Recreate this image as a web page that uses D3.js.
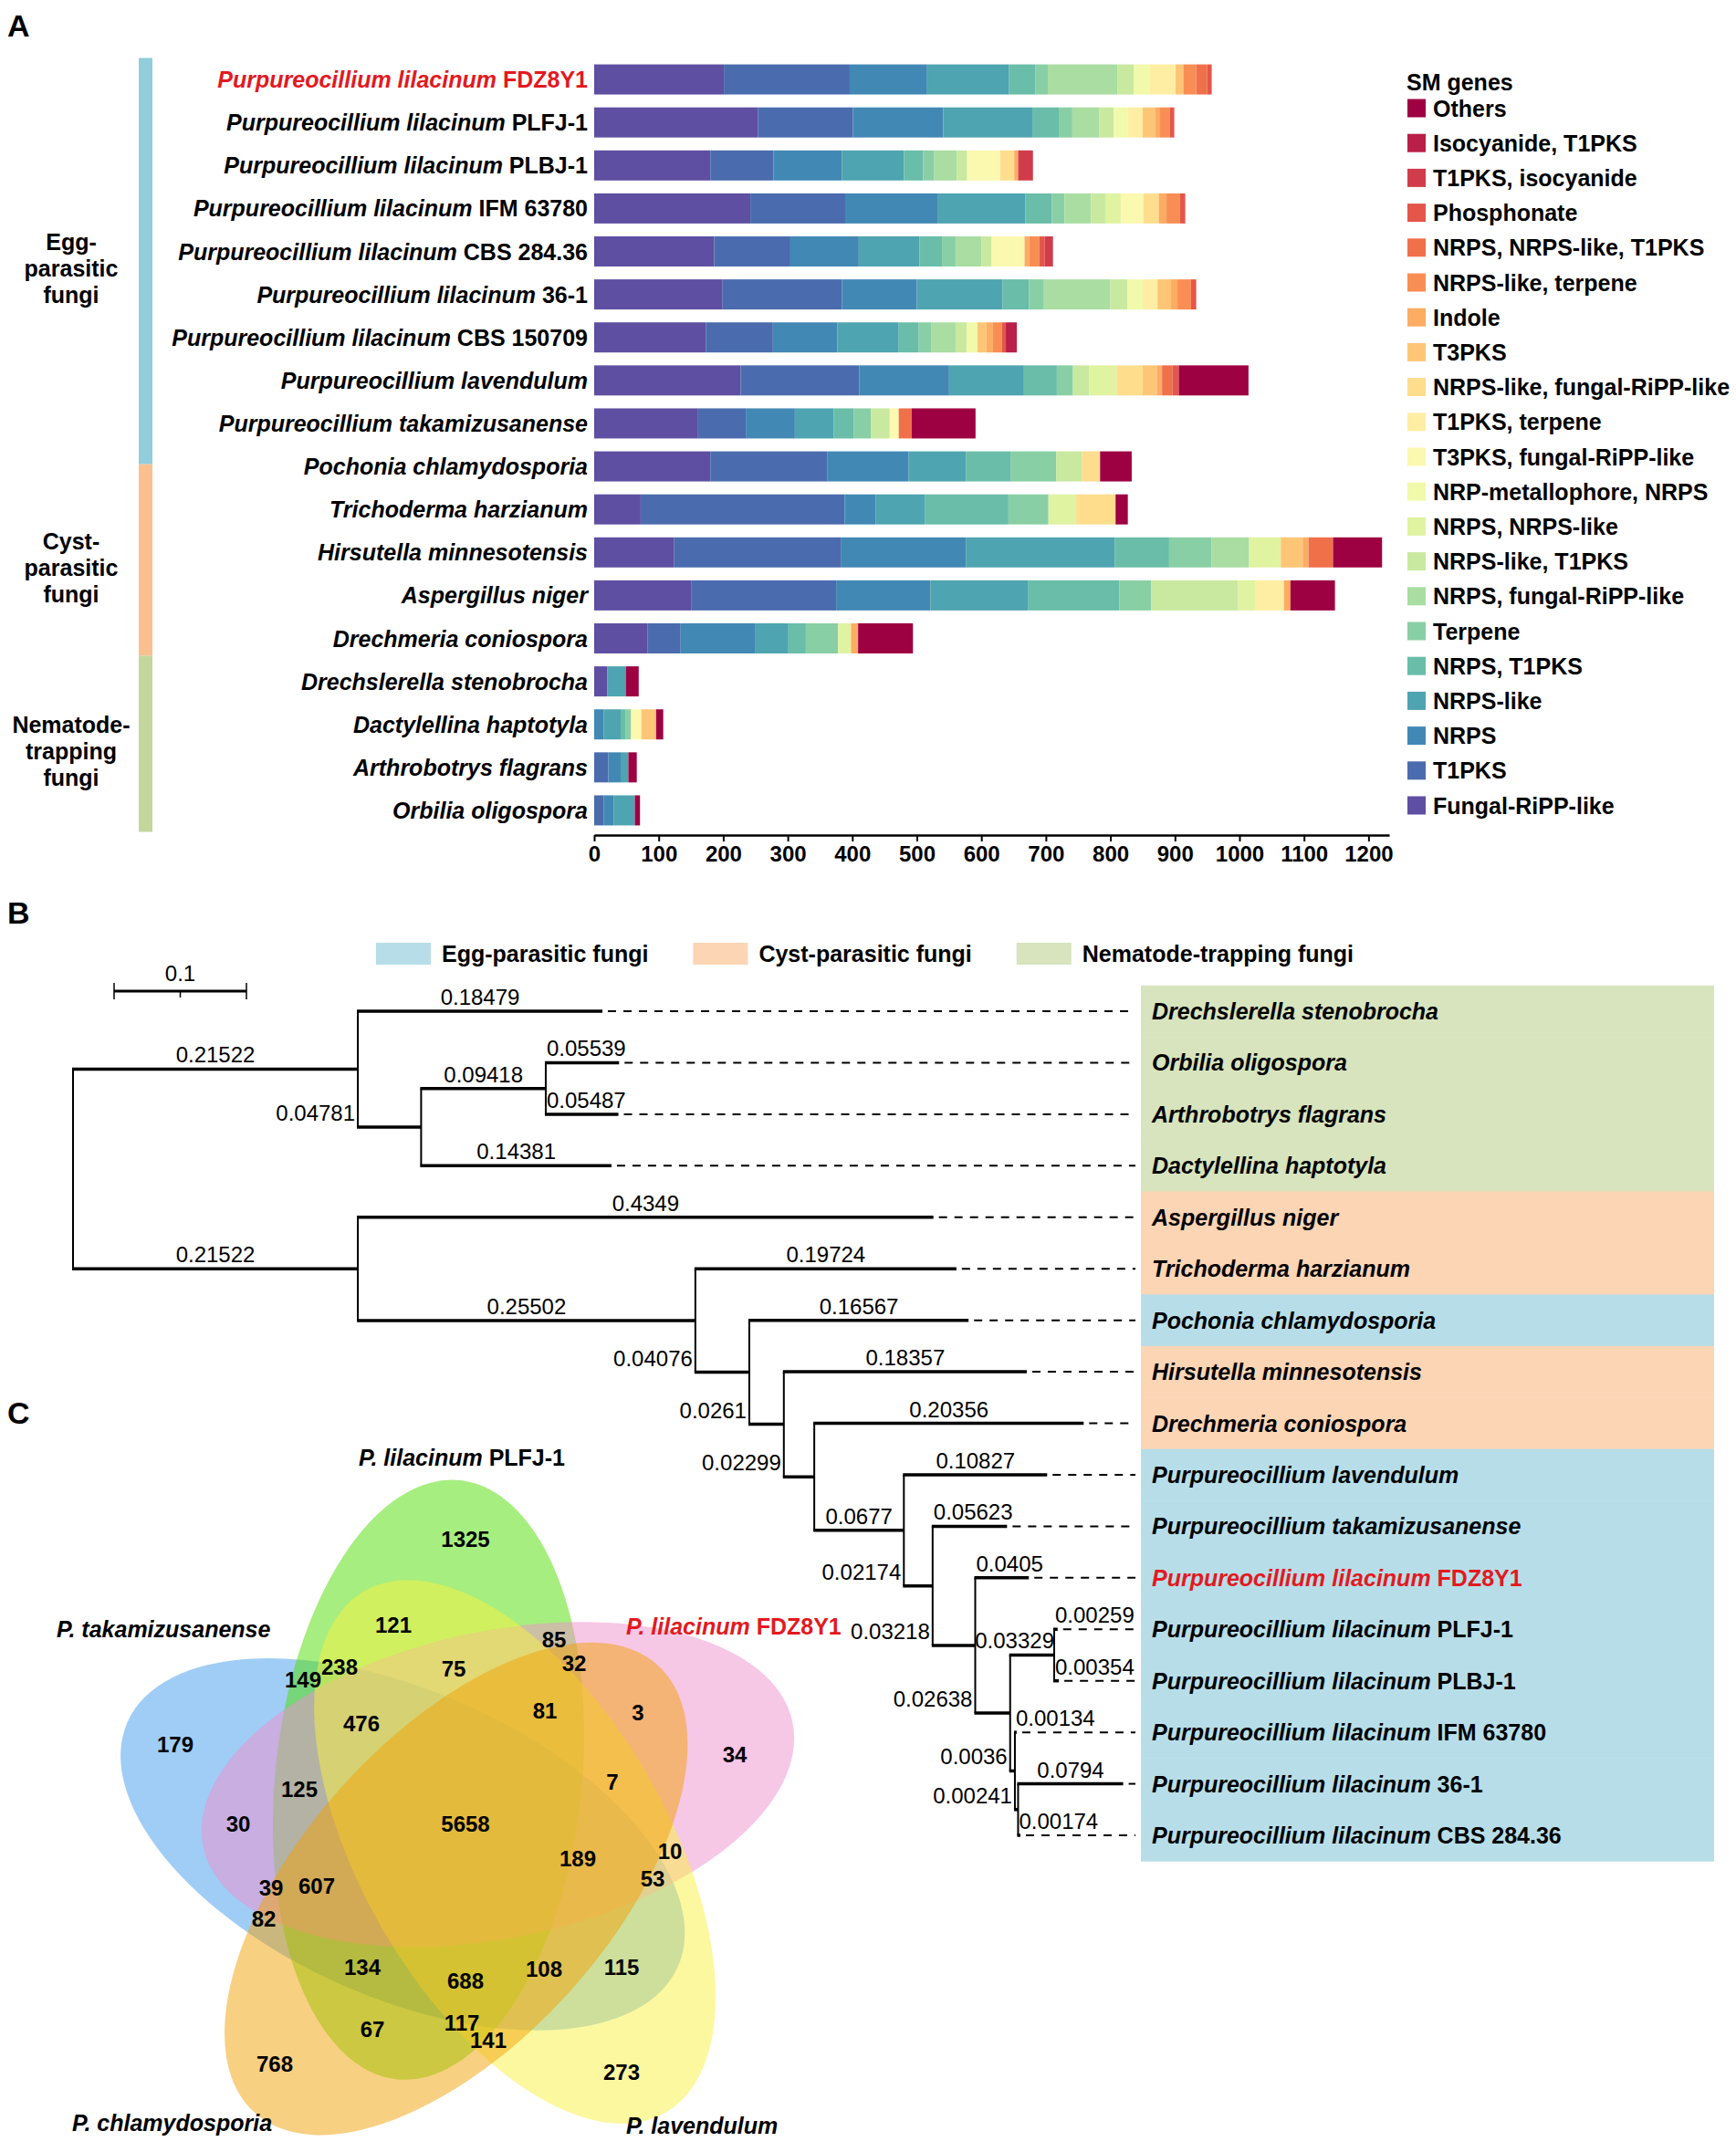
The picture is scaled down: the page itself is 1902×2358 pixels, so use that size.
<!DOCTYPE html>
<html>
<head>
<meta charset="utf-8">
<script src="https://cdn.jsdelivr.net/npm/d3@7"></script>
<style>
  body { margin: 0; background: #fff; }
  text { font-family: "Liberation Sans", Arial, Helvetica, sans-serif; }
</style>
</head>
<body>
<svg id="fig" width="1902" height="2358"></svg>
<script>
// ---------- data: panel A (SM gene clusters) ----------
var speciesA = [
  "Purpureocillium lilacinum|FDZ8Y1", "Purpureocillium lilacinum|PLFJ-1", "Purpureocillium lilacinum|PLBJ-1",
  "Purpureocillium lilacinum|IFM 63780", "Purpureocillium lilacinum|CBS 284.36", "Purpureocillium lilacinum|36-1",
  "Purpureocillium lilacinum|CBS 150709", "Purpureocillium lavendulum", "Purpureocillium takamizusanense",
  "Pochonia chlamydosporia", "Trichoderma harzianum", "Hirsutella minnesotensis", "Aspergillus niger",
  "Drechmeria coniospora", "Drechslerella stenobrocha", "Dactylellina haptotyla", "Arthrobotrys flagrans",
  "Orbilia oligospora"
];
// stacking order, left to right (legend shows it reversed)
var smTypes = [
  "Fungal-RiPP-like", "T1PKS", "NRPS", "NRPS-like", "NRPS, T1PKS", "Terpene", "NRPS, fungal-RiPP-like",
  "NRPS-like, T1PKS", "NRPS, NRPS-like", "NRP-metallophore, NRPS", "T3PKS, fungal-RiPP-like", "T1PKS, terpene",
  "NRPS-like, fungal-RiPP-like", "T3PKS", "Indole", "NRPS-like, terpene", "NRPS, NRPS-like, T1PKS",
  "Phosphonate", "T1PKS, isocyanide", "Isocyanide, T1PKS", "Others"
];
var smCounts = [
  [201,195,120,127,41,19,108,25,0,25,0,40,0,12,0,20,17,7,0,0,0],
  [254,147,140,138,41,21,42,22,0,22,0,23,0,19,8,15,0,7,0,0,0],
  [180,98,106,96,30,17,35,16,0,0,51,0,22,0,6,0,0,0,23,0,0],
  [242,147,144,135,41,20,41,22,24,0,35,0,24,0,12,21,0,8,0,0,0],
  [186,118,106,94,35,21,40,16,0,0,51,0,0,0,7,16,0,8,13,0,0],
  [199,185,116,133,41,23,103,26,0,24,0,23,0,21,10,21,0,8,0,0,0],
  [173,104,100,95,31,19,38,17,0,17,0,0,0,14,10,14,0,6,0,17,0],
  [227,184,139,116,51,25,0,25,43,0,0,0,40,22,8,0,16,10,0,0,108],
  [161,74,76,60,31,27,0,29,0,0,14,0,0,0,0,0,20,0,0,0,99],
  [180,181,126,89,70,70,0,40,0,0,0,0,28,0,0,0,0,0,0,0,49],
  [72,316,48,77,129,62,0,0,43,0,0,0,61,0,0,0,0,0,0,0,19],
  [124,259,193,231,84,66,58,0,49,0,0,0,0,34,9,0,38,0,0,0,76],
  [151,224,146,151,142,49,0,135,26,0,0,45,0,0,10,0,0,0,0,0,69],
  [83,51,115,52,27,50,0,0,20,0,0,0,0,0,11,0,0,0,0,0,85],
  [20,0,0,29,0,0,0,0,0,0,0,0,0,0,0,0,0,0,0,0,20],
  [0,0,15,26,8,8,0,0,0,0,16,0,0,23,0,0,0,0,0,0,11],
  [0,22,19,12,0,0,0,0,0,0,0,0,0,0,0,0,0,0,0,0,13],
  [0,15,15,33,0,0,0,0,0,0,0,0,0,0,0,0,0,0,0,0,8]
];
var xTicks = [0,100,200,300,400,500,600,700,800,900,1000,1100,1200];
var groupNames = [["Egg-","parasitic","fungi"], ["Cyst-","parasitic","fungi"], ["Nematode-","trapping","fungi"]];
var groupRows = [[-0.5, 8.95], [8.95, 13.4], [13.4, 17.5]];   // row spans of the side bar in panel A
var groupColors = ["#92cddc", "#fac090", "#c3d69b"];
var groupLight = ["#b7dee8", "#fcd5b5", "#d7e4bd"];
var groupLegend = ["Egg-parasitic fungi", "Cyst-parasitic fungi", "Nematode-trapping fungi"];

// ---------- data: panel B (tree) ----------
var treeTips = [
  "Drechslerella stenobrocha", "Orbilia oligospora", "Arthrobotrys flagrans", "Dactylellina haptotyla",
  "Aspergillus niger", "Trichoderma harzianum", "Pochonia chlamydosporia", "Hirsutella minnesotensis",
  "Drechmeria coniospora", "Purpureocillium lavendulum", "Purpureocillium takamizusanense",
  "Purpureocillium lilacinum|FDZ8Y1", "Purpureocillium lilacinum|PLFJ-1", "Purpureocillium lilacinum|PLBJ-1",
  "Purpureocillium lilacinum|IFM 63780", "Purpureocillium lilacinum|36-1", "Purpureocillium lilacinum|CBS 284.36"
];
var tipGroups = [2,2,2,2,1,1,0,1,1,0,0,0,0,0,0,0,0];
var treeNewick = "((0:0.18479,((1:0.05539,2:0.05487):0.09418,3:0.14381):0.04781):0.21522," +
  "(4:0.4349,(5:0.19724,(6:0.16567,(7:0.18357,(8:0.20356,(9:0.10827,(10:0.05623,(11:0.0405," +
  "((12:0.00259,13:0.00354):0.03329,(14:0.00134,(15:0.0794,16:0.00174):0.00241):0.0036):0.02638)" +
  ":0.03218):0.02174):0.0677):0.02299):0.0261):0.04076):0.25502):0.21522)";

// ---------- data: panel C (Venn) ----------
var vennSets = ["P. lilacinum|PLFJ-1", "P. lilacinum|FDZ8Y1", "P. lavendulum", "P. chlamydosporia", "P. takamizusanense"];
var vennColors = ["#4ddd00", "#ef8fcd", "#f9f141", "#f1a105", "#419beb"];
var vennCounts = [1325,121,85,32,149,238,75,81,3,179,476,34,7,125,30,5658,189,10,53,39,607,82,134,688,108,115,67,117,141,768,273];
// label spots for the counts above, relative to the Venn centre
var vennSpots = [[6,-319],[-73,-225],[103,-209],[125,-183],[-172,-165],[-132,-179],[-7,-177],[93,-131],[195,-129],
  [-312,-94],[-108,-117],[301,-83],[167,-53],[-176,-45],[-243,-7],[6,-7],[129,31],[230,23],[211,53],[-207,63],
  [-157,61],[-215,97],[-107,150],[6,165],[92,152],[177,150],[-96,218],[2,211],[31,230],[-203,256],[177,265]];

var RED = "#e3191f";
var svg = d3.select("#fig");
svg.append("rect").attr("width", 1902).attr("height", 2358).attr("fill", "#fff");

function nameText(sel, name) {
  var p = name.split("|");
  sel.append("tspan").attr("font-style", "italic").text(p[0]);
  if (p[1]) sel.append("tspan").text(" " + p[1]);
  return sel;
}
function panelLetter(t, px, py) {
  svg.append("text").attr("x", px).attr("y", py).attr("font-size", 34).attr("font-weight", "bold").text(t);
}

// ================= panel A =================
panelLetter("A", 8, 40);
var x = d3.scaleLinear().domain([0, 1232]).range([651, 1522]);
var y = d3.scaleBand().domain(d3.range(speciesA.length)).range([63.5, 911.5]).paddingInner(0.3).paddingOuter(0.15);
var rowY = d3.scaleLinear().domain([-0.5, 17.5]).range([63.5, 911.5]);
var color = function(k) { return d3.interpolateSpectral(1 - k / 20); };

var rows = smCounts.map(function(r) { var o = {}; r.forEach(function(v, k) { o[k] = v; }); return o; });
var layers = d3.stack().keys(d3.range(smTypes.length))(rows);

var gA = svg.append("g");
gA.selectAll("g.layer").data(layers).join("g").attr("class", "layer")
  .attr("fill", function(d) { return color(d.key); })
  .selectAll("rect").data(function(d) { return d.filter(function(s) { return s[1] > s[0]; }).map(function(s) {
      return {v0: s[0], v1: s[1], i: rows.indexOf(s.data)}; }); })
  .join("rect")
  .attr("x", function(d) { return x(d.v0); })
  .attr("width", function(d) { return x(d.v1) - x(d.v0); })
  .attr("y", function(d) { return y(d.i); })
  .attr("height", y.bandwidth());

gA.selectAll("text.sp").data(speciesA).join("text").attr("class", "sp")
  .attr("x", 644).attr("y", function(d, i) { return y(i) + y.bandwidth() / 2 + 9; })
  .attr("text-anchor", "end").attr("font-size", 25).attr("font-weight", "bold")
  .attr("fill", function(d, i) { return i === 0 ? RED : "#000"; })
  .each(function(d) { nameText(d3.select(this), d); });

var axA = svg.append("g").attr("transform", "translate(0,915)")
  .call(d3.axisBottom(x).tickValues(xTicks).tickFormat(d3.format("d")).tickSize(7).tickSizeOuter(0).tickPadding(5));
axA.select(".domain").attr("stroke-width", 2.5);
axA.selectAll(".tick line").attr("stroke-width", 2);
axA.selectAll(".tick text").attr("font-size", 24).attr("font-weight", "bold").attr("fill", "#000")
  .style("font-family", '"Liberation Sans", Arial, sans-serif');

// group side bar
groupRows.forEach(function(g, i) {
  svg.append("rect").attr("x", 152).attr("width", 15)
    .attr("y", rowY(g[0])).attr("height", rowY(g[1]) - rowY(g[0])).attr("fill", groupColors[i]);
  var mid = (rowY(g[0]) + rowY(g[1])) / 2 + 8;
  var t = svg.append("text").attr("text-anchor", "middle").attr("font-size", 25).attr("font-weight", "bold");
  groupNames[i].forEach(function(line, j) {
    t.append("tspan").attr("x", 78).attr("y", mid + (j - 1) * 29 + 9).text(line);
  });
});

// legend
var legA = svg.append("g").attr("transform", "translate(1541,0)");
legA.append("text").attr("x", 0).attr("y", 99).attr("font-size", 25).attr("font-weight", "bold").text("SM genes");
var legItems = d3.range(smTypes.length).reverse();
legA.selectAll("g.li").data(legItems).join("g").attr("class", "li")
  .attr("transform", function(d, i) { return "translate(0," + (118.5 + i * 38.2) + ")"; })
  .each(function(k) {
    var g = d3.select(this);
    g.append("rect").attr("x", 1).attr("y", -10).attr("width", 20).attr("height", 20).attr("fill", color(k));
    g.append("text").attr("x", 29).attr("y", 9).attr("font-size", 25).attr("font-weight", "bold").text(smTypes[k]);
  });

// ================= panel B =================
panelLetter("B", 8, 1012);

function parseNewick(s) {
  var i = 0;
  function node() {
    var n = {};
    if (s[i] === "(") {
      i++;
      n.children = [node()];
      while (s[i] === ",") { i++; n.children.push(node()); }
      i++;
    }
    var m = /^[^:,()]*/.exec(s.slice(i))[0];
    i += m.length;
    if (m !== "") n.tip = +m;
    n.len = 0; n.lenStr = "";
    if (s[i] === ":") {
      i++;
      var l = /^[0-9.eE-]+/.exec(s.slice(i))[0];
      i += l.length;
      n.len = +l; n.lenStr = l;
    }
    return n;
  }
  return node();
}

var root = d3.hierarchy(parseNewick(treeNewick));
var tx = d3.scaleLinear().domain([0, 1]).range([80, 1530]);
var ty = d3.scaleLinear().domain([0, 16]).range([1108, 2011]);
root.each(function(n) { n.cum = n.parent ? n.parent.cum + n.data.len : 0; });
root.eachAfter(function(n) {
  if (!n.children) n.py = ty(n.data.tip);
  else n.py = (n.children[0].py + n.children[n.children.length - 1].py) / 2;
});

var boxL = 1250, boxR = 1878, half = (ty(1) - ty(0)) / 2;
var gB = svg.append("g");
// coloured group bands behind the tip names
gB.selectAll("rect.band").data(treeTips).join("rect").attr("class", "band")
  .attr("x", boxL).attr("width", boxR - boxL)
  .attr("y", function(d, i) { return ty(i) - half; }).attr("height", half * 2 + 0.5)
  .attr("fill", function(d, i) { return groupLight[tipGroups[i]]; });

var leaves = root.leaves();
gB.selectAll("line.dash").data(leaves).join("line").attr("class", "dash")
  .attr("x1", function(d) { return tx(d.cum) + 6; }).attr("x2", boxL - 6)
  .attr("y1", function(d) { return d.py; }).attr("y2", function(d) { return d.py; })
  .attr("stroke", "#000").attr("stroke-width", 2).attr("stroke-dasharray", "9,8");

var inner = root.descendants().filter(function(n) { return n.children; });
gB.selectAll("line.v").data(inner).join("line").attr("class", "v")
  .attr("x1", function(d) { return tx(d.cum); }).attr("x2", function(d) { return tx(d.cum); })
  .attr("y1", function(d) { return d.children[0].py; })
  .attr("y2", function(d) { return d.children[d.children.length - 1].py; })
  .attr("stroke", "#000").attr("stroke-width", 2);

var edges = root.descendants().filter(function(n) { return n.parent; });
gB.selectAll("line.h").data(edges).join("line").attr("class", "h")
  .attr("x1", function(d) { return tx(d.parent.cum) - 1; }).attr("x2", function(d) { return tx(d.cum); })
  .attr("y1", function(d) { return d.py; }).attr("y2", function(d) { return d.py; })
  .attr("stroke", "#000").attr("stroke-width", 3.5);

// branch length labels
edges.forEach(function(n) {
  var px = tx(n.parent.cum), cx = tx(n.cum), by = n.py - 7;
  var t = gB.append("text").attr("font-size", 24).attr("y", by).text(n.data.lenStr);
  var w = t.node().getComputedTextLength();
  if (cx - px >= w + 4) {
    t.attr("x", (px + cx) / 2).attr("text-anchor", "middle");
  } else if (!n.children) {
    t.attr("x", px + 1).attr("text-anchor", "start");
  } else {
    var ax = px - 3, g = n.parent.parent;
    if (g) {
      var gx = tx(g.cum), gy0 = g.children[0].py, gy1 = g.children[g.children.length - 1].py;
      if (gx > ax - w && gx < ax && by > gy0 && by - 18 < gy1) ax = cx;
    }
    t.attr("x", ax).attr("text-anchor", "end");
  }
});

gB.selectAll("text.tip").data(leaves).join("text").attr("class", "tip")
  .attr("x", boxL + 12).attr("y", function(d) { return d.py + 9; })
  .attr("font-size", 25).attr("font-weight", "bold")
  .attr("fill", function(d) { return d.data.tip === 11 ? RED : "#000"; })
  .each(function(d) { nameText(d3.select(this), treeTips[d.data.tip]); });

// scale bar
var sb0 = 125, sb1 = 125 + tx(0.1) - tx(0), sbY = 1086;
gB.append("line").attr("x1", sb0).attr("x2", sb1).attr("y1", sbY).attr("y2", sbY).attr("stroke", "#000").attr("stroke-width", 3);
[sb0, sb1].forEach(function(v) {
  gB.append("line").attr("x1", v).attr("x2", v).attr("y1", sbY - 9).attr("y2", sbY + 9).attr("stroke", "#000").attr("stroke-width", 1.5);
});
gB.append("line").attr("x1", (sb0 + sb1) / 2).attr("x2", (sb0 + sb1) / 2).attr("y1", sbY).attr("y2", sbY + 7).attr("stroke", "#000").attr("stroke-width", 1.5);
gB.append("text").attr("x", (sb0 + sb1) / 2).attr("y", sbY - 11).attr("text-anchor", "middle").attr("font-size", 24).text("0.1");

// group legend
var lx = 412;
groupLegend.forEach(function(name, i) {
  svg.append("rect").attr("x", lx).attr("y", 1033).attr("width", 60).attr("height", 24).attr("fill", groupLight[i]);
  var t = svg.append("text").attr("x", lx + 72).attr("y", 1054).attr("font-size", 25).attr("font-weight", "bold").text(name);
  lx += 72 + t.node().getComputedTextLength() + 49;
});

// ================= panel C =================
panelLetter("C", 8, 1560);
var VC = [504, 2005], tipR = 383, ea = 330, eb = 168;
var rad = Math.PI / 180;
var ell = vennSets.map(function(s, k) {
  var th = -90 + 72 * k, psi = th + 6;
  var tip = [VC[0] + tipR * Math.cos(th * rad), VC[1] + tipR * Math.sin(th * rad)];
  return {k: k, psi: psi, cx: tip[0] - ea * Math.cos(psi * rad), cy: tip[1] - ea * Math.sin(psi * rad)};
});
var gC = svg.append("g");
gC.selectAll("ellipse").data([4, 0, 1, 2, 3].map(function(k) { return ell[k]; })).join("ellipse")
  .attr("cx", function(d) { return d.cx; }).attr("cy", function(d) { return d.cy; })
  .attr("rx", ea).attr("ry", eb)
  .attr("transform", function(d) { return "rotate(" + d.psi + "," + d.cx + "," + d.cy + ")"; })
  .attr("fill", function(d) { return vennColors[d.k]; }).attr("fill-opacity", 0.5);

gC.selectAll("text.cnt").data(vennCounts).join("text").attr("class", "cnt")
  .attr("x", function(d, i) { return VC[0] + vennSpots[i][0]; })
  .attr("y", function(d, i) { return VC[1] + vennSpots[i][1] + 9; })
  .attr("text-anchor", "middle").attr("font-size", 24).attr("font-weight", "bold").text(function(d) { return d; });

// set names, placed beyond each ellipse tip
var setLab = [
  {k: 0, x: 506, y: 1606, a: "middle"},
  {k: 1, x: 686, y: 1791, a: "start"},
  {k: 2, x: 686, y: 2338, a: "start"},
  {k: 3, x: 79, y: 2335, a: "start"},
  {k: 4, x: 62, y: 1794, a: "start"}
];
setLab.forEach(function(l) {
  var t = gC.append("text").attr("x", l.x).attr("y", l.y).attr("text-anchor", l.a)
    .attr("font-size", 25).attr("font-weight", "bold").attr("fill", l.k === 1 ? RED : "#000");
  nameText(t, vennSets[l.k]);
});
</script>
</body>
</html>
